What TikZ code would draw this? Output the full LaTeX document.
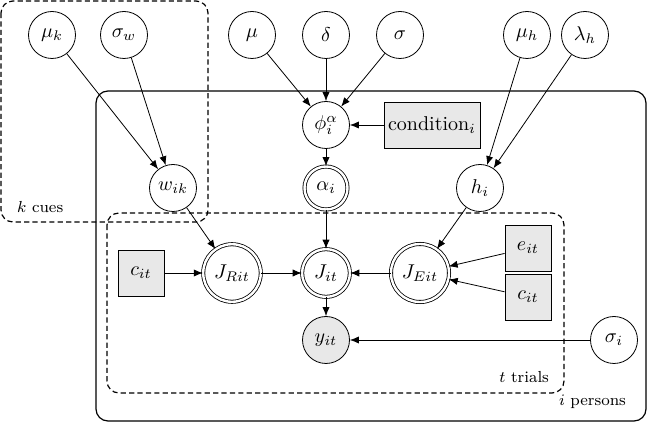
\documentclass[tikz,border=0pt]{standalone}
\usepackage{tikz}
\usetikzlibrary{arrows.meta}

\begin{document}
\begin{tikzpicture}[x=0.5pt,y=-0.5pt,>={Latex[length=4.5pt,width=3.6pt]},
  latent/.style={circle,draw,fill=white,minimum size=23.5pt,inner sep=1pt},
  obsv/.style={latent,fill=gray!18},
  detm/.style={circle,draw,fill=white,double,double distance=1.2pt,minimum size=23.5pt},
  given/.style={rectangle,draw,fill=gray!18,minimum size=23pt,inner sep=2pt},
  plate/.style={rounded corners=6pt,line width=0.6pt},
  dplate/.style={plate,dash pattern=on 2.6pt off 1.6pt},
  platelabel/.style={font=\footnotesize}]
  \useasboundingbox (0,0) rectangle (649,422);
  \draw[dplate] (1,1) rectangle (208,222);
  \draw[plate] (96,91) rectangle (646,421);
  \draw[dplate] (107,213) rectangle (564,393);
  \node[platelabel,anchor=west] (kcues) at (10,207) {$k$ cues};
  \node[platelabel,anchor=east] (ttrials) at (556,377) {$t$ trials};
  \node[platelabel,anchor=east] (ipersons) at (633,402) {$i$ persons};

  \node[latent] (muk) at (52,35) {$\mu_k$};
  \node[latent] (sigw) at (124,35) {$\sigma_w$};
  \node[latent] (mu) at (252,35) {$\mu$};
  \node[latent] (delta) at (326,35) {$\delta$};
  \node[latent] (sig) at (400,35) {$\sigma$};
  \node[latent] (muh) at (527,35) {$\mu_h$};
  \node[latent] (lamh) at (585,35) {$\lambda_h$};
  \node[latent] (phi) at (326,125) {$\phi_i^\alpha$};
  \node[given] (cond) at (432,125) {condition$_i$};
  \node[detm,minimum size=21.5pt] (alpha) at (326,188) {$\alpha_i$};
  \node[latent] (wik) at (173,188) {$w_{ik}$};
  \node[latent] (hi) at (480,188) {$h_i$};
  \node[given] (cl) at (141,273) {$c_{it}$};
  \node[detm] (JR) at (232,273) {$J_{Rit}$};
  \node[detm] (J) at (326,273) {$J_{it}$};
  \node[detm] (JE) at (420,273) {$J_{Eit}$};
  \node[given] (e) at (528,248) {$e_{it}$};
  \node[given] (cr) at (528,297) {$c_{it}$};
  \node[obsv] (y) at (326,340) {$y_{it}$};
  \node[latent] (sigi) at (614,340) {$\sigma_i$};

  \draw[->] (muk) -- (wik);
  \draw[->] (sigw) -- (wik);
  \draw[->] (mu) -- (phi);
  \draw[->] (delta) -- (phi);
  \draw[->] (sig) -- (phi);
  \draw[->] (cond) -- (phi);
  \draw[->] (phi) -- (alpha);
  \draw[->] (muh) -- (hi);
  \draw[->] (lamh) -- (hi);
  \draw[->] (wik) -- (JR);
  \draw[->] (alpha) -- (J);
  \draw[->] (hi) -- (JE);
  \draw[->] (cl) -- (JR);
  \draw[->] (JR) -- (J);
  \draw[->] (JE) -- (J);
  \draw[->] (e) -- (JE);
  \draw[->] (cr) -- (JE);
  \draw[->] (J) -- (y);
  \draw[->] (sigi) -- (y);
\end{tikzpicture}
\end{document}
